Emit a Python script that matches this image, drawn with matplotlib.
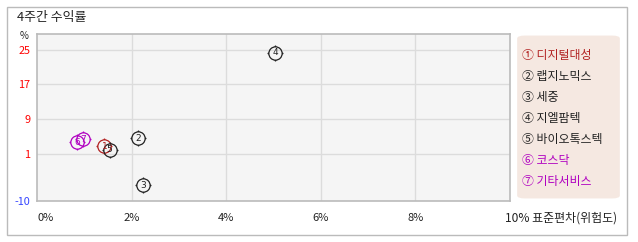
import matplotlib
matplotlib.use("Agg")
import matplotlib.pyplot as plt
from matplotlib.path import Path
from matplotlib.patches import Rectangle, FancyBboxPatch
import numpy as np

plt.rcParams['font.family'] = ['Noto Sans CJK KR', 'DejaVu Sans']

# ---- data ----
names = ["디지털대성", "랩지노믹스", "세중", "지엘팜텍", "바이오톡스텍", "코스닥", "기타서비스"]
marks = ["①", "②", "③", "④", "⑤", "⑥", "⑦"]
digits = ["1", "2", "3", "4", "5", "6", "7"]
risk = [1.42, 2.14, 2.24, 5.04, 1.53, 0.85, 0.97]      # std dev (%)
ret = [2.7, 4.5, -6.4, 24.3, 1.9, 3.6, 4.35]            # 4-week return (%)
colors = ["#b22222", "#222222", "#222222", "#222222", "#222222", "#b000c0", "#b000c0"]
yticks = [-10, 1, 9, 17, 25]
ytick_colors = ["#3344ff", "#ff0000", "#ff0000", "#ff0000", "#ff0000"]
xticks = [0, 2, 4, 6, 8, 10]
xtick_labels = ["0%", "2%", "4%", "6%", "8%", "10% 표준편차(위험도)"]

W, H = 638, 242
fig = plt.figure(figsize=(W / 100, H / 100), dpi=100)
fig.patch.set_facecolor("white")

def fx(px):
    return px / W

def fy(py):
    return 1 - py / H

# outer frame
fig.patches.append(Rectangle((fx(7), fy(235)), fx(627) - fx(7), fy(7) - fy(235),
                             transform=fig.transFigure, fill=False, edgecolor="#bbbbbb", lw=1))

# title
fig.text(fx(17), fy(18), "4주간 수익률", fontsize=9.3, color="#222222", va="center", ha="left")
fig.text(fx(24), fy(36), "%", fontsize=7, color="#222222", va="center", ha="center")

left, right, top, bottom = 37.3, 509.7, 34, 201
ax = fig.add_axes([fx(left), fy(bottom), fx(right) - fx(left), fy(top) - fy(bottom)])
ax.set_facecolor("#f5f5f5")
ax.set_xlim(0, 10)
ax.set_ylim(-10, 28.7)
for s in ax.spines.values():
    s.set_color("#bbbbbb")
    s.set_linewidth(1.2)

for xv in [2, 4, 6, 8]:
    ax.axvline(xv, color="#dcdcdc", lw=1, zorder=1)
for yv in [1, 9, 17, 25]:
    ax.axhline(yv, color="#dcdcdc", lw=1, zorder=1)

ax.set_xticks([])
ax.set_yticks(yticks)
ax.set_yticklabels([str(v) for v in yticks], fontsize=7.8)
for lab, c in zip(ax.get_yticklabels(), ytick_colors):
    lab.set_color(c)
ax.tick_params(axis="y", length=0, pad=5)

# x tick labels
for xv, lab in zip(xticks, xtick_labels):
    tr = ax.get_xaxis_transform()
    if xv == 0:
        ax.text(xv, -0.1, lab, transform=tr, fontsize=8, color="#222222", ha="left", va="center")
    elif xv == 10:
        ax.text(9.9, -0.1, lab, transform=tr, fontsize=8.6, color="#222222", ha="left", va="center")
    else:
        ax.text(xv, -0.1, lab, transform=tr, fontsize=8, color="#222222", ha="center", va="center")

# custom marker: circle plus four small ticks
circ = Path.circle((0, 0), 1.0)
verts = list(circ.vertices)
codes = list(circ.codes)
for (a, b) in [((0, 1.0), (0, 1.2)), ((0, -1.0), (0, -1.2)), ((1.0, 0), (1.2, 0)), ((-1.0, 0), (-1.2, 0))]:
    verts += [a, b]
    codes += [Path.MOVETO, Path.LINETO]
marker = Path(np.array(verts), codes)

for i in range(len(names)):
    ax.plot([risk[i]], [ret[i]], marker=marker, markersize=11.5, markerfacecolor="none",
            markeredgecolor=colors[i], markeredgewidth=0.9, linestyle="none", zorder=3)
    ax.text(risk[i], ret[i], digits[i], fontsize=6.5, color=colors[i], ha="center",
            va="center", zorder=4, family="DejaVu Sans")

# legend panel
fig.patches.append(FancyBboxPatch((fx(521), fy(197)), fx(616) - fx(521), fy(37) - fy(197),
                                  boxstyle="round,pad=0.006,rounding_size=0.012",
                                  transform=fig.transFigure, facecolor="#f5e8e1",
                                  edgecolor="none"))
for i in range(len(names)):
    yp = 55.3 + i * 21.1
    fig.text(fx(521.5), fy(yp), marks[i] + " " + names[i], fontsize=8.6, color=colors[i],
             ha="left", va="center")

fig.savefig("out.png", dpi=100)
